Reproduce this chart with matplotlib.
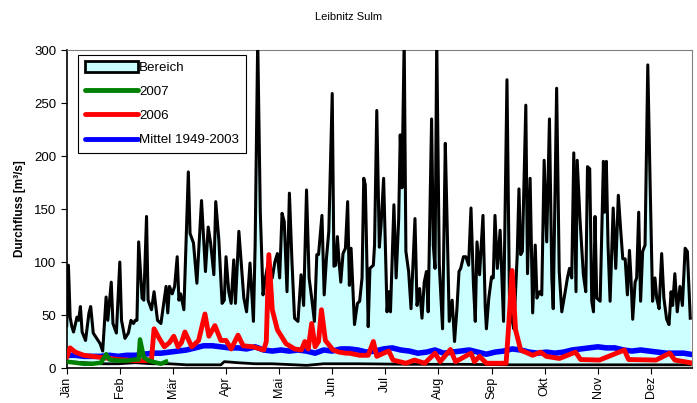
import matplotlib
matplotlib.use("Agg")
import matplotlib.pyplot as plt
from matplotlib.patches import Patch
from matplotlib.lines import Line2D

plt.rcParams['font.family'] = ['Liberation Sans', 'DejaVu Sans']

# month labels (category axis, tick every 31 days)
months = ['Jän', 'Feb', 'Mär', 'Apr', 'Mai', 'Jun', 'Jul', 'Aug', 'Sep', 'Okt', 'Nov', 'Dez']
month_days = [0, 31, 62, 93, 124, 155, 186, 217, 248, 279, 310, 341]

# Bereich: upper envelope, (day of year, m3/s)
max_points = [
    (0, 40), (1, 97), (2, 48), (3, 39), (4, 34), (6, 48), (7, 45), (8, 58), (9, 34), (11, 26),
    (13, 52), (14, 58), (15.5, 33), (17.5, 28), (19.5, 23), (21, 16), (23, 67), (24, 45), (26, 81),
    (27, 42), (29, 33), (31, 100), (32, 45), (34, 28), (36, 33), (37.5, 45), (39, 42), (40, 45),
    (41, 45), (42, 119), (44, 66), (45, 64), (46.6, 143), (47.5, 64), (49.5, 55), (51, 72), (53, 45),
    (55, 42), (58, 77), (59, 52), (60, 77), (61.6, 70), (63, 77), (64.5, 105), (65.5, 64), (66.5, 70),
    (68.4, 55), (71, 185), (72, 127), (74, 118), (76, 80), (78.7, 158), (80, 121), (81, 91),
    (82.6, 133), (84, 118), (85.9, 88), (87, 157), (88.8, 121), (90.7, 61), (92, 64), (93, 105),
    (94.6, 72), (96, 61), (97.5, 102), (98.5, 61), (100.5, 129), (102, 96), (103.4, 66), (105, 53),
    (107, 99), (109, 44), (110, 116), (111.5, 310), (113, 147), (114.6, 69), (116, 85), (118, 103),
    (120, 85), (121.5, 100), (123, 108), (124.3, 85), (125.7, 146), (127, 138), (128.6, 72),
    (130, 165), (131.5, 100), (133, 47), (135, 44), (136.8, 88), (138.3, 59), (140, 168), (141.5, 85),
    (143, 66), (144.6, 44), (146, 107), (147, 107), (149, 144), (150.3, 69), (151.6, 103), (153, 129),
    (155, 259), (156, 96), (157, 97), (158, 124), (159, 100), (160, 81), (161.3, 108), (162.7, 113),
    (164, 157), (165, 78), (166, 113), (168, 41), (169.7, 61), (171, 63), (172.4, 85), (173.4, 179),
    (174.3, 173), (176, 39), (177, 94), (179, 97), (179.7, 116), (181, 243), (182.5, 114),
    (183.5, 135), (185, 179), (187, 53), (188, 72), (189, 53), (191, 154), (192.3, 85), (193.8, 141),
    (194.7, 220), (195.7, 170), (197, 310), (198, 110), (199.6, 91), (201, 56), (202.2, 100),
    (203.3, 141), (204.5, 59), (206, 75), (207.4, 47), (208.7, 81), (210, 91), (211, 53), (213, 235),
    (214, 116), (215, 94), (216, 310), (217.5, 97), (219.4, 37), (221, 212), (222, 141), (223.3, 44),
    (225, 64), (226.4, 25), (227.8, 56), (229, 91), (230, 94), (231.6, 105), (233, 105), (234.6, 97),
    (236, 151), (237.4, 80), (238.5, 44), (239.5, 119), (241, 88), (243, 144), (244.3, 58), (245, 37),
    (246.4, 66), (248, 86), (249, 85), (250, 144), (251.4, 94), (253, 130), (255, 44), (257, 272),
    (258.5, 59), (259.8, 47), (261, 37), (263, 107), (264, 169), (265, 107), (266, 110), (268, 248),
    (269, 89), (270.5, 179), (272, 52), (273.5, 116), (274.5, 66), (276, 72), (277.3, 69),
    (278.7, 196), (280.2, 119), (281.8, 235), (283.2, 85), (284, 56), (286, 264), (287.5, 91),
    (289, 53), (291, 72), (292.3, 85), (293.5, 94), (294.8, 85), (296, 203), (297.3, 72), (298, 196),
    (299.6, 141), (301.6, 88), (303, 72), (304, 190), (305.3, 188), (306.5, 63), (307.5, 53),
    (308.4, 143), (309.4, 66), (311.4, 63), (313.3, 195), (314, 147), (315, 195), (316, 116),
    (317.2, 63), (319, 151), (320.5, 94), (322, 163), (323.3, 132), (324.6, 103), (326, 103),
    (327.3, 69), (328.5, 111), (329.3, 88), (330.4, 46), (331.8, 81), (332.7, 85), (333.9, 147),
    (335, 63), (336.2, 110), (337.6, 116), (339.2, 286), (340.5, 179), (342, 63), (343.4, 85),
    (344.4, 66), (345.8, 56), (347.3, 108), (348.6, 66), (350.2, 46), (351.6, 41), (352.8, 72),
    (353.7, 59), (355, 89), (356.4, 53), (358, 77), (359.4, 59), (361, 113), (362.3, 110), (364, 47),
]

# Bereich: lower envelope
min_days = [0, 10, 20, 30, 40, 50, 60, 70, 80, 90, 92, 100, 110, 120, 140, 150, 170, 200, 230, 260, 290, 320, 350, 364]
min_vals = [6, 5, 4, 4, 5, 4, 4, 3, 3, 3, 6, 5, 4, 4, 2.5, 4, 4, 3.5, 3.5, 3, 3, 3, 3, 3]

# Mittel 1949-2003 (every 5 days)
mean_days = list(range(0, 365, 5)) + [364]
mean_vals = [12, 12, 11, 11, 11, 12, 11, 12, 12, 13, 14, 14, 15, 16, 17, 19, 21, 21, 20, 19, 19, 18, 20, 17,
             16, 17, 16, 17, 16, 14, 17, 16, 18, 18, 17, 15, 16, 18, 19, 17, 16, 14, 15, 17, 14, 15, 16, 17,
             15, 13, 15, 16, 18, 17, 15, 14, 15, 14, 15, 17, 18, 19, 20, 19, 19, 17, 16, 17, 16, 15, 14, 14,
             14, 13]

# 2006
y2006_points = [
    (0, 10), (2, 19), (5, 15), (10, 12), (20, 10), (30, 8), (40, 7), (46, 7), (49.5, 8), (51, 37),
    (54, 28), (57, 20), (60, 24), (62.5, 30), (65, 20), (67, 24), (69, 34), (73, 20), (77, 26),
    (80.7, 51), (83, 30), (86.5, 40), (90, 26), (93, 26), (96, 18), (100, 31), (103, 21), (109, 20),
    (115, 17), (116.5, 25), (118, 107), (120, 55), (123, 36), (128, 23), (133, 18), (137, 17),
    (139, 25), (141, 18), (143, 42), (145, 20), (147, 25), (148.7, 55), (151, 26), (155.5, 17),
    (159, 15), (163, 14), (165, 14), (171, 12), (176, 12), (179, 25), (181, 11), (185, 14), (188, 16),
    (190.5, 7.5), (198, 4.5), (203, 7.5), (209, 4.5), (215, 14), (218, 6), (224, 17.5), (227, 6),
    (236, 14), (238, 6), (241, 11), (245, 4.5), (256.5, 4.5), (258, 40), (260, 92), (262, 36),
    (265, 17), (272, 12), (276.6, 15), (280, 11), (287.6, 9), (297, 15), (300, 8), (311, 7.5),
    (325.5, 17), (328, 8), (344, 7.5), (352, 14), (355, 7.5), (364, 5),
]

# 2007 (until end of February)
y2007_days = [0, 5, 10, 15, 20, 23, 25, 30, 35, 40, 42, 42.8, 45, 48, 50, 55, 58]
y2007_vals = [6, 5, 4, 4, 5, 13, 8, 7, 7, 8, 8, 27, 10, 7, 6, 4, 6]

max_days = [p[0] for p in max_points]
max_vals = [p[1] for p in max_points]
y2006_days = [p[0] for p in y2006_points]
y2006_vals = [p[1] for p in y2006_points]

fig = plt.figure(figsize=(6.97, 4.03), dpi=100)
ax = fig.add_axes([0.0957, 0.0868, 0.8971, 0.789])

ax.fill_between(max_days, max_vals, 0, color='#ccffff', lw=0, zorder=1)
ax.fill_between(min_days, min_vals, 0, color='white', lw=0, zorder=1.5)
ax.plot(max_days, max_vals, color='black', lw=2.2, zorder=3)
ax.plot(min_days, min_vals, color='black', lw=2.0, zorder=3)
ax.plot(mean_days, mean_vals, color='#0000ff', lw=4, zorder=4)
ax.plot(y2006_days, y2006_vals, color='#ff0000', lw=3.5, zorder=5)
ax.plot(y2007_days, y2007_vals, color='#008000', lw=3.2, zorder=6)

ax.set_xlim(0, 365)
ax.set_ylim(0, 300)
ax.set_yticks(range(0, 301, 50))
ax.set_xticks(month_days)
ax.set_xticklabels(months, rotation=90, fontsize=9)
ax.tick_params(axis='y', labelsize=9.5, direction='out', length=4)
ax.tick_params(axis='x', direction='out', length=4, pad=2)
for s in ['top', 'right']:
    ax.spines[s].set_color('#808080')
ax.spines['left'].set_linewidth(1.2)
ax.spines['bottom'].set_linewidth(1.2)

ax.set_ylabel('Durchfluss [m³/s]', fontsize=8.5, fontweight='bold', labelpad=6)
fig.text(0.5, 0.958, 'Leibnitz Sulm', ha='center', va='center', fontsize=8)

handles = [Patch(facecolor='#ccffff', edgecolor='black', lw=2),
           Line2D([], [], color='#008000', lw=3.5, solid_capstyle='round'),
           Line2D([], [], color='#ff0000', lw=3.5, solid_capstyle='round'),
           Line2D([], [], color='#0000ff', lw=3.5, solid_capstyle='round')]
leg = ax.legend(handles, ['Bereich', '2007', '2006', 'Mittel 1949-2003'], loc='upper left',
                bbox_to_anchor=(0.018, 0.985), fontsize=9.6, frameon=True, fancybox=False,
                edgecolor='black', framealpha=1, handlelength=4.0, handleheight=0.8,
                handletextpad=0.1, labelspacing=0.85, borderpad=0.5, borderaxespad=0)
leg.get_frame().set_linewidth(0.8)
leg.set_zorder(10)

fig.savefig('out.png', dpi=100)
